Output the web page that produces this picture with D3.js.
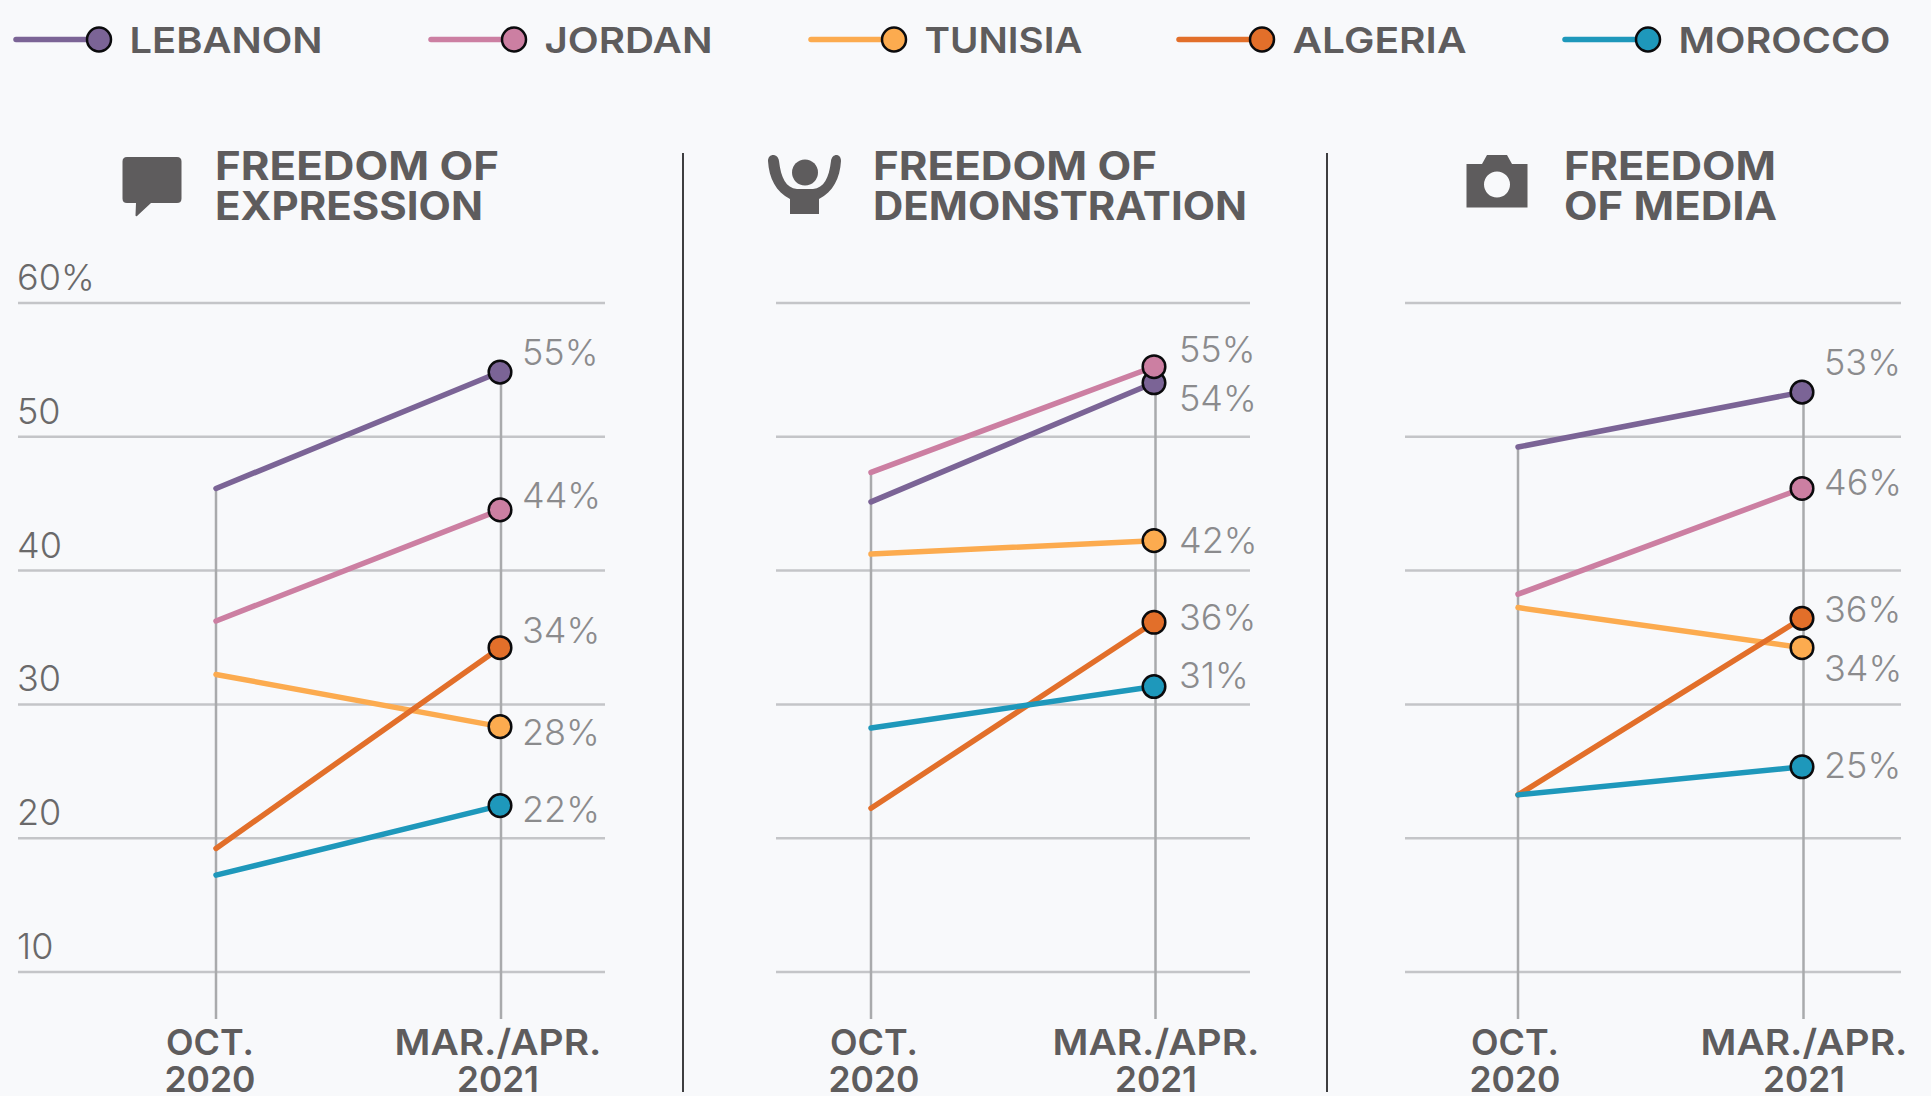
<!DOCTYPE html>
<html>
<head>
<meta charset="utf-8">
<script src="https://cdn.jsdelivr.net/npm/d3@7"></script>
<style>
  html, body { margin: 0; padding: 0; background: #f8f9fb; }
  svg { display: block; }
  text { font-family: Inter, "Open Sans", sans-serif; }
  .domain { display: none; }
</style>
</head>
<body>
<div id="graphicContainer"></div>
<script>

// chart values
const countries = ["LEBANON", "JORDAN", "TUNISIA", "ALGERIA", "MOROCCO"]
const waves = ["OCT.|2020", "MAR./APR.|2021"]
const yTicks = [10, 20, 30, 40, 50, 60]

const expressionOct = [46.1, 36.2, 32.2, 19.2, 17.2]
const expressionMar = [54.8, 44.5, 28.3, 34.2, 22.4]
const expressionLabels = ["55%", "44%", "28%", "34%", "22%"]

const demonstrationOct = [45.1, 47.3, 41.2, 22.2, 28.2]
const demonstrationMar = [54.0, 55.2, 42.2, 36.1, 31.3]
const demonstrationLabels = ["54%", "55%", "42%", "36%", "31%"]

const mediaOct = [49.2, 38.2, 37.2, 23.2, 23.2]
const mediaMar = [53.3, 46.1, 34.2, 36.4, 25.3]
const mediaLabels = ["53%", "46%", "34%", "36%", "25%"]

// styling / layout
const colors = ["#7b6496", "#cc7fa2", "#fcab4f", "#e26f2a", "#1e98bb"]
const inkDark = "#5e5c5d"
const inkValue = "#8b8b8d"
const inkTick = "#6a696a"

const width = 1931
const height = 1096
const y = d3.scaleLinear().domain([10, 60]).range([971.5, 302.5])

const panels = [
  { oct: expressionOct, mar: expressionMar, labels: expressionLabels,
    left: 18, right: 605, xs: [216, 500], axisNudge: 1, labelX: 522,
    nudge: [-20, -15, 5, -18, 3],
    waveX: [210, 498], showTicks: true, titleX: 215,
    title: [["FREEDOM OF", 284], ["EXPRESSION", 268]] },
  { oct: demonstrationOct, mar: demonstrationMar, labels: demonstrationLabels,
    left: 776, right: 1250, xs: [871, 1154], axisNudge: 1.5, labelX: 1179,
    nudge: [15, -18, -1, -5, -12],
    waveX: [874, 1156], showTicks: false, titleX: 873,
    title: [["FREEDOM OF", 284], ["DEMONSTRATION", 374]] },
  { oct: mediaOct, mar: mediaMar, labels: mediaLabels,
    left: 1405, right: 1901, xs: [1518, 1802], axisNudge: 1.5, labelX: 1824,
    nudge: [-30, -6, 20, -9, -2],
    waveX: [1515, 1804], showTicks: false, titleX: 1564,
    title: [["FREEDOM", 212], ["OF MEDIA", 213]] }
]

const legendDots = [99, 514, 894, 1262, 1648]
const legendWidths = [193, 168, 158, 174, 212]
const waveWidths = [[88, 91], [207, 82]]

const svg = d3.select("#graphicContainer").append("svg")
  .attr("width", width)
  .attr("height", height)

// legend
const legend = svg.append("g").selectAll("g")
  .data(countries)
  .enter()
  .append("g")
  .attr("transform", (d, i) => `translate(${legendDots[i]},39.5)`)

legend.append("line")
  .attr("x1", -83).attr("x2", 0)
  .attr("stroke", (d, i) => colors[i])
  .attr("stroke-width", 5.5)
  .attr("stroke-linecap", "round")

legend.append("circle")
  .attr("r", 12)
  .attr("fill", (d, i) => colors[i])
  .attr("stroke", "#0b0b0d")
  .attr("stroke-width", 2.5)

legend.append("text")
  .attr("x", 30.5).attr("y", 13)
  .attr("font-size", 36).attr("font-weight", 600)
  .attr("fill", inkDark)
  .attr("textLength", (d, i) => legendWidths[i])
  .attr("lengthAdjust", "spacingAndGlyphs")
  .text(d => d)

// separators
svg.selectAll(".sep")
  .data([683, 1327])
  .enter()
  .append("line")
  .attr("class", "sep")
  .attr("x1", d => d).attr("x2", d => d)
  .attr("y1", 153).attr("y2", 1092)
  .attr("stroke", "#3e3e40")
  .attr("stroke-width", 2)

// icons
svg.append("path")
  .attr("fill", inkDark)
  .attr("d", "M127 157H177Q181.500 157 181.500 161.500V198.500Q181.500 203 177 203H151L137 216Q135.500 217 135.500 215L136 203H127Q122.500 203 122.500 198.500V161.500Q122.500 157 127 157Z")

const person = svg.append("g").attr("fill", inkDark)
person.append("ellipse").attr("cx", 805).attr("cy", 172.500).attr("rx", 13).attr("ry", 13)
person.append("path")
  .attr("d", "M768 161C768 153 778 153 779 161C781 178 786 188 797 189H813C824 188 829 178 831 161C832 153 841 153 841 161C840 178 833 192 819 199V214H790V199C776 192 769 178 768 161Z")

svg.append("path")
  .attr("fill", inkDark)
  .attr("fill-rule", "evenodd")
  .attr("d", "M1466.500 164H1482L1487 155H1507L1512 164H1527.500V207.500H1466.500ZM1497 171.500A13 13 0 1 0 1497 197.500A13 13 0 1 0 1497 171.500Z")

// panels
panels.forEach(p => {

  const x = d3.scalePoint().domain(waves).range(p.xs)
  const g = svg.append("g")

  const series = countries.map((name, i) => ({
    name, color: colors[i], label: p.labels[i], nudge: p.nudge[i],
    values: [p.oct[i], p.mar[i]]
  }))

  // gridlines come from the axis ticks
  const yAxis = d3.axisLeft(y)
    .tickValues(yTicks)
    .tickSize(-(p.right - p.left))
    .tickFormat(d => !p.showTicks ? "" : d == 60 ? d + "%" : d)

  const yG = g.append("g")
    .attr("transform", `translate(${p.left},0)`)
    .call(yAxis)

  yG.selectAll(".tick line")
    .attr("stroke", "#c4c5c8")
    .attr("stroke-width", 2.5)

  yG.selectAll(".tick text")
    .attr("x", -1)
    .attr("dy", -13)
    .attr("text-anchor", "start")
    .attr("font-size", 36)
    .attr("font-weight", 300)
    .attr("fill", inkTick)

  // vertical guides
  const tops = [d3.max(p.oct), d3.max(p.mar)]
  g.selectAll(".guide")
    .data(waves)
    .enter()
    .append("line")
    .attr("class", "guide")
    .attr("x1", (d, i) => x(d) + (i ? p.axisNudge : 0))
    .attr("x2", (d, i) => x(d) + (i ? p.axisNudge : 0))
    .attr("y1", (d, i) => y(tops[i]))
    .attr("y2", 1019)
    .attr("stroke", "#a9aaac")
    .attr("stroke-width", 2.5)

  // wave labels
  const waveLabel = g.selectAll(".wave")
    .data(waves)
    .enter()
    .append("text")
    .attr("class", "wave")
    .attr("text-anchor", "middle")
    .attr("font-size", 36)
    .attr("font-weight", 600)
    .attr("fill", inkDark)

  waveLabel.append("tspan")
    .attr("x", (d, i) => p.waveX[i])
    .attr("y", 1055)
    .attr("textLength", (d, i) => waveWidths[i][0])
    .attr("lengthAdjust", "spacingAndGlyphs")
    .text(d => d.split("|")[0])

  waveLabel.append("tspan")
    .attr("x", (d, i) => p.waveX[i])
    .attr("y", 1092)
    .attr("textLength", (d, i) => waveWidths[i][1])
    .attr("lengthAdjust", "spacingAndGlyphs")
    .text(d => d.split("|")[1])

  // lines
  const line = d3.line()
    .x((d, i) => x(waves[i]))
    .y(d => y(d))

  g.selectAll(".series")
    .data(series)
    .enter()
    .append("path")
    .attr("class", "series")
    .attr("d", d => line(d.values))
    .attr("fill", "none")
    .attr("stroke", d => d.color)
    .attr("stroke-width", 5.5)
    .attr("stroke-linecap", "round")

  // end dots
  g.selectAll(".dot")
    .data(series)
    .enter()
    .append("circle")
    .attr("class", "dot")
    .attr("cx", x(waves[1]))
    .attr("cy", d => y(d.values[1]))
    .attr("r", 11.3)
    .attr("fill", d => d.color)
    .attr("stroke", "#0b0b0d")
    .attr("stroke-width", 2.5)

  // value labels
  g.selectAll(".value")
    .data(series)
    .enter()
    .append("text")
    .attr("class", "value")
    .attr("x", p.labelX)
    .attr("y", d => y(d.values[1]) + d.nudge + 13)
    .attr("font-size", 36)
    .attr("font-weight", 300)
    .attr("fill", inkValue)
    .text(d => d.label)

  // panel title
  g.selectAll(".title")
    .data(p.title)
    .enter()
    .append("text")
    .attr("class", "title")
    .attr("x", p.titleX)
    .attr("y", (d, i) => 179.5 + i * 40)
    .attr("font-size", 39)
    .attr("font-weight", 700)
    .attr("fill", inkDark)
    .attr("textLength", d => d[1])
    .attr("lengthAdjust", "spacingAndGlyphs")
    .text(d => d[0])

})

</script>
</body>
</html>
